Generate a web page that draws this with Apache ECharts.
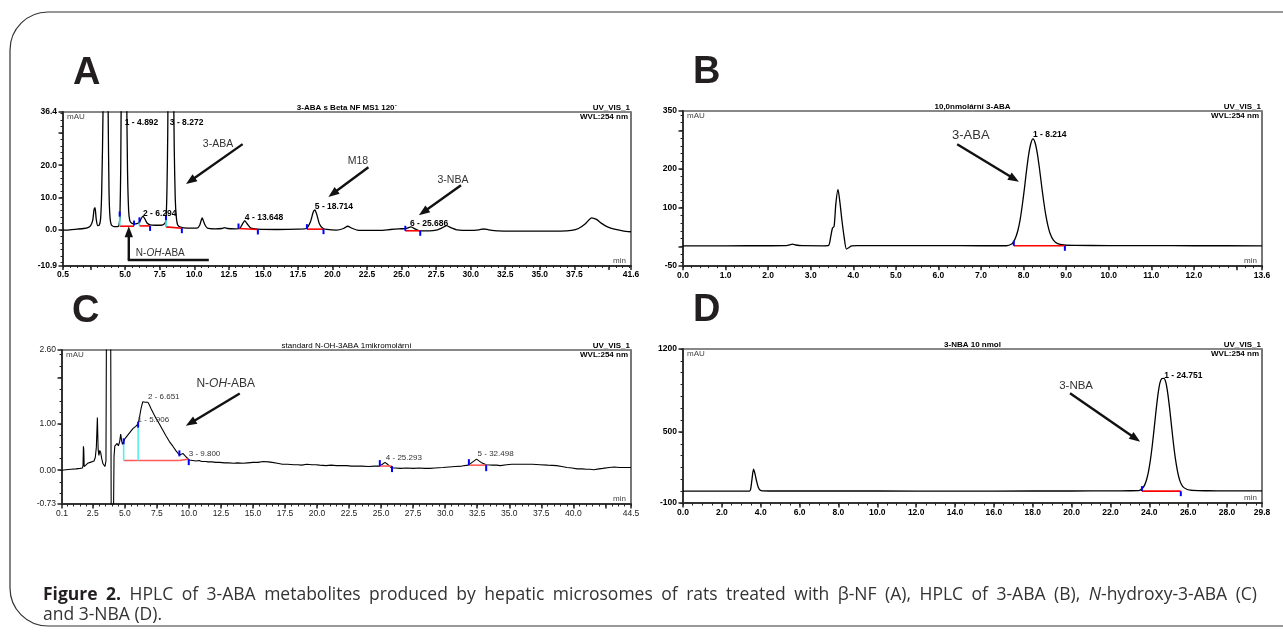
<!DOCTYPE html>
<html><head><meta charset="utf-8">
<script src="https://cdn.jsdelivr.net/npm/echarts@6/dist/echarts.min.js"></script>
<style>html,body{margin:0;padding:0;background:#fff}#c{width:1283px;height:639px}</style>
</head><body><div id="c"></div>
<script>
// ================= DATA =================
// Panel A: 3-ABA with beta-NF microsomes (time min, mAU)
const traceA = [
[0.5,0.0],[1.0,0.1],[1.5,0.3],[2.0,0.5],[2.3,0.8],[2.5,1.4],[2.65,3.0],[2.75,6.4],[2.82,6.9],[2.9,3.5],[3.0,1.4],[3.12,1.5],[3.22,3.5],[3.3,12],[3.4,38],[3.5,150],[3.58,300],[3.66,200],[3.72,80],[3.77,35],[3.83,12],[3.9,4],[4.0,1.6],[4.2,1.1],[4.45,1.1],[4.55,1.5],[4.62,4.5],[4.68,20],[4.75,70],[4.82,150],[4.89,200],[4.96,160],[5.03,90],[5.1,45],[5.17,18],[5.25,6],[5.33,3],[5.45,2.2],[5.65,1.9],[5.85,2.0],[6.03,2.4],[6.15,3.5],[6.29,4.3],[6.42,3.5],[6.58,2.2],[6.8,1.6],[7.2,1.5],[7.6,1.5],[7.85,2.0],[7.95,3.2],[8.02,12],[8.08,30],[8.15,80],[8.22,180],[8.27,230],[8.33,200],[8.4,120],[8.48,55],[8.55,25],[8.62,10],[8.7,4],[8.8,1.6],[9.0,0.9],[9.5,0.6],[10.2,0.6],[10.4,1.6],[10.57,3.8],[10.75,1.8],[10.95,0.6],[11.5,0.4],[12.0,0.5],[12.2,0.8],[12.4,0.5],[13.0,0.4],[13.3,0.6],[13.5,2.0],[13.65,2.9],[13.85,1.8],[14.1,0.6],[14.6,0.3],[16.0,0.2],[17.5,0.3],[18.1,0.5],[18.4,2.5],[18.6,5.5],[18.72,6.2],[18.85,5.0],[19.05,2.0],[19.3,0.6],[19.6,0.2],[20.3,0.0],[20.8,0.5],[21.1,1.2],[21.4,0.6],[21.8,0.0],[22.5,-0.1],[23.4,-0.1],[24.2,0.2],[24.8,0.4],[25.3,0.5],[25.68,1.0],[26.0,0.3],[26.3,-0.2],[27.0,-0.2],[27.6,0.1],[27.9,0.6],[28.25,1.4],[28.6,0.7],[29.0,0.1],[30.0,-0.1],[30.6,0.1],[30.95,0.35],[31.3,0.1],[32.0,-0.2],[34.0,-0.3],[36.5,-0.3],[37.3,-0.1],[37.8,0.5],[38.3,2.0],[38.75,3.8],[39.1,3.3],[39.5,2.0],[39.9,1.0],[40.4,0.3],[41.0,-0.2],[41.6,-0.5]
];
// Panel B: 3-ABA standard
const traceB = [
[0,1.5],[1.0,1.5],[2.0,1.6],[2.4,1.8],[2.5,4],[2.57,6],[2.65,3.5],[2.8,1.8],[3.3,1.5],[3.42,2.5],[3.47,25],[3.51,47],[3.55,52],[3.59,110],[3.64,147],[3.69,110],[3.73,70],[3.78,28],[3.84,-7],[3.9,-3],[3.96,1],[4.1,2],[5.0,2],[6.0,1.8],[7.0,1.6],[7.6,1.6],[7.72,6],[7.77,13],[7.82,25],[7.87,43],[7.92,70],[7.97,107],[8.02,150],[8.07,197],[8.12,238],[8.17,266],[8.22,278],[8.27,268],[8.32,242],[8.37,204],[8.42,160],[8.47,118],[8.52,82],[8.57,54],[8.62,34],[8.7,16],[8.8,7],[8.95,3.5],[9.2,2.5],[10,2],[11,1.8],[12,1.6],[13.6,1.5]
];
// Panel C: N-OH-3-ABA standard
const traceC = [
[0.1,0.00],[0.4,0.01],[0.8,0.02],[1.2,0.03],[1.5,0.04],[1.7,0.05],[1.74,0.10],[1.77,0.52],[1.80,0.45],[1.83,0.08],[1.95,0.10],[2.1,0.15],[2.3,0.17],[2.45,0.16],[2.6,0.20],[2.7,0.28],[2.78,0.50],[2.86,1.14],[2.92,0.45],[2.98,0.32],[3.05,0.43],[3.12,0.38],[3.2,0.25],[3.3,0.14],[3.45,0.08],[3.53,0.20],[3.58,4.00],[3.75,5.00],[3.9,3.00],[3.95,-2.00],[4.03,-2.50],[4.1,-1.50],[4.16,0.30],[4.22,0.52],[4.3,0.56],[4.4,0.58],[4.5,0.53],[4.6,0.62],[4.68,0.78],[4.75,0.64],[4.82,0.56],[4.91,0.60],[5.0,0.68],[5.2,0.75],[5.4,0.82],[5.63,0.90],[5.85,0.95],[6.04,1.00],[6.15,1.15],[6.27,1.34],[6.4,1.48],[6.5,1.50],[6.6,1.47],[6.7,1.50],[6.8,1.47],[6.9,1.42],[7.05,1.33],[7.25,1.22],[7.44,1.12],[7.7,1.00],[7.96,0.87],[8.2,0.75],[8.48,0.62],[8.75,0.52],[9.0,0.42],[9.26,0.33],[9.4,0.33],[9.55,0.36],[9.7,0.32],[9.85,0.27],[10.04,0.22],[10.3,0.21],[10.56,0.20],[10.8,0.21],[11.0,0.19],[11.3,0.19],[11.5,0.18],[11.8,0.18],[12.1,0.17],[12.4,0.17],[12.8,0.16],[13.1,0.16],[13.5,0.15],[13.8,0.16],[14.2,0.15],[14.6,0.16],[15.0,0.17],[15.4,0.17],[15.8,0.19],[16.2,0.18],[16.5,0.17],[16.9,0.15],[17.3,0.13],[17.7,0.13],[18.2,0.12],[18.5,0.12],[18.8,0.11],[19.2,0.13],[19.6,0.12],[19.9,0.12],[20.2,0.11],[20.7,0.10],[21.1,0.11],[21.5,0.10],[21.9,0.10],[22.3,0.10],[22.7,0.09],[23.0,0.09],[23.5,0.09],[24.0,0.08],[24.5,0.09],[24.9,0.09],[25.1,0.13],[25.3,0.17],[25.5,0.13],[25.8,0.05],[26.1,0.05],[26.5,0.04],[27.0,0.05],[27.5,0.04],[28.0,0.05],[28.4,0.04],[28.8,0.04],[29.2,0.05],[29.8,0.06],[30.3,0.07],[30.8,0.08],[31.3,0.09],[31.8,0.11],[32.1,0.17],[32.45,0.24],[32.8,0.17],[33.2,0.12],[33.7,0.11],[34.0,0.11],[34.3,0.10],[34.8,0.12],[35.2,0.13],[35.7,0.13],[36.2,0.13],[36.8,0.13],[37.4,0.12],[38.0,0.11],[38.7,0.10],[39.1,0.08],[39.5,0.06],[39.9,0.05],[40.3,0.03],[40.7,0.03],[41.0,0.02],[41.3,0.02],[41.6,0.01],[42.0,0.03],[42.3,0.04],[42.8,0.06],[43.2,0.07],[43.6,0.06],[44.0,0.06],[44.5,0.06]
];
// Panel D: 3-NBA standard
const traceD = [
[0,0],[1,0],[2,0.5],[3,0.5],[3.42,1],[3.48,15],[3.55,100],[3.63,185],[3.7,150],[3.78,90],[3.87,35],[3.96,10],[4.1,3],[5,1.5],[8,1.5],[12,1],[16,1],[20,1.5],[22,2.5],[23,3.5],[23.45,5],[23.55,11],[23.65,25],[23.75,49],[23.85,92],[23.95,159],[24.05,255],[24.15,381],[24.25,530],[24.35,684],[24.45,821],[24.55,916],[24.65,950],[24.75,952],[24.85,918],[24.95,826],[25.05,692],[25.15,540],[25.25,392],[25.35,266],[25.45,170],[25.55,100],[25.65,58],[25.75,34],[25.9,18],[26.1,9],[26.5,5],[27,3.5],[28,2.5],[29.8,2]
];

// Integration marks: baselines [t1,v1,t2,v2], drop lines [t,v0,v1], peak delimiters [t,v,dir]
const baselinesA = [[4.6,1.2,5.64,1.2],[6.03,1.3,6.8,1.3],[7.95,1.0,9.1,0.6],[13.2,0.5,14.6,0.2],[18.15,0.3,19.35,0.3],[25.27,-0.2,26.35,-0.2]];
const dropsA = [[4.6,1.2,4.2],[6.03,1.3,2.4],[7.95,1.0,3.1]];
const delimsA = [[4.6,4.2,1],[5.64,1.4,1],[6.03,2.4,1],[6.8,1.3,-1],[7.95,3.1,1],[9.1,0.6,-1],[13.2,0.5,1],[14.6,0.2,-1],[18.15,0.3,1],[19.35,0.3,-1],[25.27,-0.2,1],[26.35,-0.2,-1]];
const baselinesB = [[7.77,1.5,8.97,1.5]];
const dropsB = [];
const delimsB = [[7.77,1.5,1],[8.97,1.5,-1]];
const baselinesC = [[4.91,0.21,9.26,0.21],[9.26,0.21,9.99,0.24],[24.9,0.09,25.85,0.09],[31.85,0.11,33.2,0.11]];
const dropsC = [[4.91,0.21,0.56],[6.04,0.21,0.92]];
const delimsC = [[4.91,0.56,1],[6.04,0.92,1],[9.26,0.30,1],[9.99,0.24,-1],[24.9,0.09,1],[25.85,0.09,-1],[31.85,0.11,1],[33.2,0.11,-1]];
const baselinesD = [[23.62,0,25.62,0]];
const dropsD = [];
const delimsD = [[23.62,0,1],[25.62,0,-1]];

// Peak labels [text, t(left), v(middle)]
const peakLabelsA = [['1 - 4.892',4.97,33.1],['3 - 8.272',8.23,33.1],['2 - 6.294',6.29,5.1],['4 - 13.648',13.66,3.8],['5 - 18.714',18.72,7.2],['6 - 25.686',25.6,2.1]];
const peakLabelsB = [['1 - 8.214',8.22,288]];
const peakLabelsC = [['2 - 6.651',6.81,1.59],['1 - 5.906',6.0,1.10],['3 - 9.800',9.99,0.35],['4 - 25.293',25.37,0.26],['5 - 32.498',32.53,0.35]];
const peakLabelsD = [['1 - 24.751',24.77,976]];

// Annotations: texts [text, t(left), v(middle)], arrows [t1,v1,t2,v2], plain lines
const annotTextA = [['3-ABA',10.62,26.5],['M18',21.1,21.2],['3-NBA',27.6,15.4],['N-{i|OH}-ABA',5.77,-7.1]];
const annotArrowA = [[13.5,26.5,9.4,14.2],[22.6,19.4,19.7,10.2],[29.3,13.8,26.25,4.6],[5.26,-9.2,5.26,1.2]];
const annotLineA = [[5.26,-9.2,11.05,-9.2]];
const annotTextB = [['3-ABA',6.32,288]];
const annotArrowB = [[6.44,264,7.89,167]];
const annotTextC = [['N-{i|OH}-ABA',10.59,1.88]];
const annotArrowC = [[13.97,1.66,9.76,0.96]];
const annotTextD = [['3-NBA',19.36,891]];
const annotArrowD = [[19.92,827,23.53,418]];

// Tick labels
const xLabelsA = [0.5,5,7.5,10,12.5,15,17.5,20,22.5,25,27.5,30,32.5,35,37.5,41.6];
const yLabelsA = [-10.9,0,10,20,36.4];
const xLabelsB = [0,1,2,3,4,5,6,7,8,9,10,11,12,13.6];
const yLabelsB = [-50,100,200,350];
const xLabelsC = [0.1,2.5,5,7.5,10,12.5,15,17.5,20,22.5,25,27.5,30,32.5,35,37.5,40,44.5];
const yLabelsC = [-0.73,0,1,2.6];
const xLabelsD = [0,2,4,6,8,10,12,14,16,18,20,22,24,26,28,29.8];
const yLabelsD = [-100,500,1200];

const captionLine1 = 'Figure 2. HPLC of 3-ABA metabolites produced by hepatic microsomes of rats treated with β-NF (A), HPLC of 3-ABA (B), N-hydroxy-3-ABA (C)';
const captionLine2 = 'and 3-NBA (D).';

// ================= LAYOUT / STYLE =================
const FONT = "'Liberation Sans', Arial, Helvetica, sans-serif";
const CAPFONT = "'Open Sans', 'Noto Sans', sans-serif";
function steps(a,b,s){const o=[];const n=Math.round((b-a)/s);for(let i=0;i<=n;i++)o.push(+(a+i*s).toFixed(4));return o;}

const panels = [
 {letter:'A', grid:{left:63,top:112,width:568,height:153.5}, x:[0.5,41.6], y:[-10.9,36.4],
  xLabels:xLabelsA, yLabels:yLabelsA, xMajor:[0.5].concat(steps(2.5,40,2.5),[41.6]), yMajor:[-10.9,0,10,20,30,36.4],
  xMinor:steps(0.5,41.5,0.5), yMinor:steps(-10,36,2), xDec:1, yDec:1, bold:true,
  trace:traceA, smooth:0.2, lw:1.3, base:baselinesA, drops:dropsA, delims:delimsA, dl:5,
  peaks:peakLabelsA, pfs:8.5, at:annotTextA, aa:annotArrowA, al:annotLineA, afs:10.5, anFs:10,
  title:'3-ABA s Beta NF MS1 120´', titleBold:true},
 {letter:'B', grid:{left:683,top:111,width:579,height:154.7}, x:[0,13.6], y:[-50,350],
  xLabels:xLabelsB, yLabels:yLabelsB, xMajor:steps(0,13,1).concat([13.6]), yMajor:[-50,0,100,200,300,350],
  xMinor:steps(0,13.6,0.2), yMinor:steps(-40,340,20), xDec:1, yDec:0, bold:true,
  trace:traceB, smooth:0.25, lw:1.3, base:baselinesB, drops:dropsB, delims:delimsB, dl:5,
  peaks:peakLabelsB, pfs:8.5, at:annotTextB, aa:annotArrowB, al:[], afs:13,
  title:'10,0nmolární 3-ABA', titleBold:true},
 {letter:'C', grid:{left:62,top:350,width:569,height:154}, x:[0.1,44.5], y:[-0.73,2.6],
  xLabels:xLabelsC, yLabels:yLabelsC, xMajor:[0.1].concat(steps(2.5,42.5,2.5),[44.5]), yMajor:[-0.73,0,1,2,2.6],
  xMinor:steps(0.5,44.5,0.5), yMinor:steps(-0.5,2.5,0.25), xDec:1, yDec:2, bold:false,
  trace:traceC, smooth:false, lw:1.1, base:baselinesC, drops:dropsC, delims:delimsC, dl:6,
  peaks:peakLabelsC, pfs:8, at:annotTextC, aa:annotArrowC, al:[], afs:12,
  title:'standard N-OH-3ABA 1mikromolární', titleBold:false},
 {letter:'D', grid:{left:683,top:349,width:579,height:154}, x:[0,29.8], y:[-100,1200],
  xLabels:xLabelsD, yLabels:yLabelsD, xMajor:steps(0,28,2).concat([29.8]), yMajor:[-100,500,1200],
  xMinor:steps(0,29.5,0.5), yMinor:steps(-100,1200,100), xDec:1, yDec:0, bold:true,
  trace:traceD, smooth:0.25, lw:1.3, base:baselinesD, drops:dropsD, delims:delimsD, dl:5,
  peaks:peakLabelsD, pfs:8.5, at:annotTextD, aa:annotArrowD, al:[], afs:11.5,
  title:'3-NBA 10 nmol', titleBold:true}
];

const chart = echarts.init(document.getElementById('c'));
const grids=[], xAxes=[], yAxes=[], series=[];
panels.forEach((p,k)=>{
  grids.push(Object.assign({show:true,borderColor:'#111',borderWidth:1,backgroundColor:'transparent'},p.grid));
  const lab = {fontFamily:FONT,fontSize:8.5,fontWeight:p.bold?'bold':'normal',color:p.bold?'#000':'#222'};
  xAxes.push({type:'value',gridIndex:k,position:'bottom',min:p.x[0],max:p.x[1],
    axisLine:{show:true,onZero:false,lineStyle:{color:'#333',width:2}},
    axisTick:{show:true,customValues:p.xMinor,length:2.5,lineStyle:{color:'#222',width:1}},
    axisLabel:{show:false},splitLine:{show:false}});
  xAxes.push({type:'value',gridIndex:k,position:'bottom',min:p.x[0],max:p.x[1],
    axisLine:{show:false,onZero:false},
    axisTick:{show:true,customValues:p.xMajor,length:4.5,lineStyle:{color:'#222',width:1.5}},
    axisLabel:Object.assign({customValues:p.xLabels,margin:5,formatter:v=>(+v).toFixed(p.xDec)},lab),
    splitLine:{show:false}});
  yAxes.push({type:'value',gridIndex:k,position:'left',min:p.y[0],max:p.y[1],
    axisLine:{show:true,onZero:false,lineStyle:{color:'#333',width:2}},
    axisTick:{show:true,customValues:p.yMinor,length:2.5,lineStyle:{color:'#222',width:1}},
    axisLabel:{show:false},splitLine:{show:false}});
  yAxes.push({type:'value',gridIndex:k,position:'left',min:p.y[0],max:p.y[1],
    axisLine:{show:false,onZero:false},
    axisTick:{show:true,customValues:p.yMajor,length:4.5,lineStyle:{color:'#222',width:1.5}},
    axisLabel:Object.assign({customValues:p.yLabels,margin:6,formatter:v=>(+v).toFixed(p.yDec)},lab),
    splitLine:{show:false}});
  yAxes.push({type:'value',gridIndex:k,position:'right',min:p.y[0],max:p.y[1],
    axisLine:{show:true,onZero:false,lineStyle:{color:'#777',width:2}},
    axisTick:{show:false},axisLabel:{show:false},splitLine:{show:false}});
  const xi=2*k+1, yi=3*k+1;
  series.push({type:'line',xAxisIndex:xi,yAxisIndex:yi,data:p.trace,showSymbol:false,symbol:'none',
    smooth:p.smooth,clip:true,lineStyle:{color:'#000',width:p.lw},z:3,silent:true});
  const red = k===2?'#ff5a5a':'#ff0000', cyan = k===2?'#55eeee':'#22dddd';
  series.push({type:'custom',xAxisIndex:xi,yAxisIndex:yi,data:p.base,z:4,silent:true,
    renderItem:(params,api)=>{const a=api.coord([api.value(0),api.value(1)]),b=api.coord([api.value(2),api.value(3)]);
      return {type:'line',shape:{x1:a[0],y1:a[1],x2:b[0],y2:b[1]},style:{stroke:red,lineWidth:1.6}};}});
  series.push({type:'custom',xAxisIndex:xi,yAxisIndex:yi,data:p.drops,z:4,silent:true,
    renderItem:(params,api)=>{const a=api.coord([api.value(0),api.value(1)]),b=api.coord([api.value(0),api.value(2)]);
      return {type:'line',shape:{x1:a[0],y1:a[1],x2:b[0],y2:b[1]},style:{stroke:cyan,lineWidth:1.6}};}});
  series.push({type:'custom',xAxisIndex:xi,yAxisIndex:yi,data:p.delims,z:5,silent:true,
    renderItem:(params,api)=>{const a=api.coord([api.value(0),api.value(1)]);const d=api.value(2);
      return {type:'line',shape:{x1:a[0],y1:a[1],x2:a[0],y2:a[1]-d*p.dl},style:{stroke:'#0000ff',lineWidth:2}};}});
});

chart.setOption({animation:false,grid:grids,xAxis:xAxes,yAxis:yAxes,series:series});

// ================= ANNOTATIONS =================
const G=[];
G.push({type:'rect',shape:{x:10,y:12,width:1320,height:614,r:38},style:{fill:'none',stroke:'#333',lineWidth:1.2},z:1});
function txt(text,x,y,o){o=o||{};return {type:'text',z:50,silent:true,style:Object.assign({text:text,x:x,y:y,
  fill:o.fill||'#000',fontFamily:o.ff||FONT,fontSize:o.fs||8,fontWeight:o.fw||'normal',fontStyle:o.fst||'normal',
  align:o.al||'left',verticalAlign:o.va||'middle',textAlign:o.al||'left',textVerticalAlign:o.va||'middle'},o.rich?{rich:o.rich}:{})};}
function arrowEls(p1,p2){const dx=p2[0]-p1[0],dy=p2[1]-p1[1],L=Math.hypot(dx,dy),ux=dx/L,uy=dy/L,hl=11,hw=4.2;
  const bx=p2[0]-ux*hl,by=p2[1]-uy*hl;
  return [{type:'line',z:50,silent:true,shape:{x1:p1[0],y1:p1[1],x2:bx+ux,y2:by+uy},style:{stroke:'#111',lineWidth:2.4}},
    {type:'polygon',z:50,silent:true,shape:{points:[[p2[0],p2[1]],[bx-uy*hw,by+ux*hw],[bx+uy*hw,by-ux*hw]]},style:{fill:'#111'}}];}

panels.forEach((p,k)=>{
  const fd={xAxisIndex:2*k+1,yAxisIndex:3*k+1};
  const P=(t,v)=>chart.convertToPixel(fd,[t,v]);
  const g=p.grid, R=g.left+g.width, B=g.top+g.height;
  G.push(txt(p.letter,g.left+10,g.top-38,{fs:38,fw:'bold',fill:'#231f20'}));
  G.push(txt(p.title,g.left+g.width/2,g.top-0.5,{fs:8,fw:p.titleBold?'bold':'normal',al:'center',va:'bottom'}));
  G.push(txt('UV_VIS_1',R-1,g.top-0.5,{fs:8,fw:'bold',al:'right',va:'bottom'}));
  G.push(txt('WVL:254 nm',R-3,g.top+5,{fs:8,fw:'bold',al:'right'}));
  G.push(txt('mAU',g.left+4,g.top+5,{fs:8,fill:'#444'}));
  G.push(txt('min',R-5,B-5,{fs:8,fill:'#444',al:'right'}));
  p.peaks.forEach(([s,t,v])=>{const q=P(t,v);G.push(txt(s,q[0],q[1],{fs:p.pfs,fw:p.bold?'bold':'normal',fill:p.bold?'#000':'#333'}));});
  p.at.forEach(([s,t,v])=>{const q=P(t,v);const fs=(p.anFs&&s.indexOf('{i|')>=0)?p.anFs:p.afs;
    G.push(txt(s,q[0],q[1],{fs:fs,fill:'#333',rich:{i:{fontStyle:'italic',fontFamily:FONT,fontSize:fs,fill:'#333'}}}));});
  p.aa.forEach(([t1,v1,t2,v2])=>{arrowEls(P(t1,v1),P(t2,v2)).forEach(e=>G.push(e));});
  p.al.forEach(([t1,v1,t2,v2])=>{const a=P(t1,v1),b=P(t2,v2);
    G.push({type:'line',z:50,silent:true,shape:{x1:a[0]-1,y1:a[1],x2:b[0],y2:b[1]},style:{stroke:'#111',lineWidth:2.4}});});
});

// Caption: first line set to run to the box width like the reference
const CAP_REG=17.5, CAP_BOLD=17.5;
const mctx=document.createElement('canvas').getContext('2d');
function mw(s,weight,style,size){mctx.font=(style||'normal')+' '+(weight||'normal')+' '+size+'px '+CAPFONT;return mctx.measureText(s).width;}
const capRich={b:{fontWeight:'bold',fontFamily:CAPFONT,fontSize:CAP_BOLD,fill:'#231f20'},
               i:{fontStyle:'italic',fontFamily:CAPFONT,fontSize:CAP_REG,fill:'#333'}};
const words=captionLine1.split(' ');
const items=words.map((w,i)=>{
  if(i<2) return {t:'{b|'+w+'}',w:mw(w,'bold','normal',CAP_BOLD)};
  if(w.indexOf('N-hydroxy')===0) return {t:'{i|N}'+w.slice(1),w:mw('N','normal','italic',CAP_REG)+mw(w.slice(1),'normal','normal',CAP_REG)};
  return {t:w,w:mw(w,'normal','normal',CAP_REG)};
});
const capX0=43, capX1=1257;
const totalW=items.reduce((s,it)=>s+it.w,0);
const gap=Math.max(mw(' ','normal','normal',CAP_REG),(capX1-capX0-totalW)/(items.length-1));
let cx=capX0;
items.forEach(it=>{G.push(txt(it.t,cx,595,{ff:CAPFONT,fs:CAP_REG,fill:'#333',rich:capRich}));cx+=it.w+gap;});
G.push(txt(captionLine2,capX0,615,{ff:CAPFONT,fs:CAP_REG,fill:'#333',rich:capRich}));

chart.setOption({graphic:{elements:G}});
</script>
</body></html>
